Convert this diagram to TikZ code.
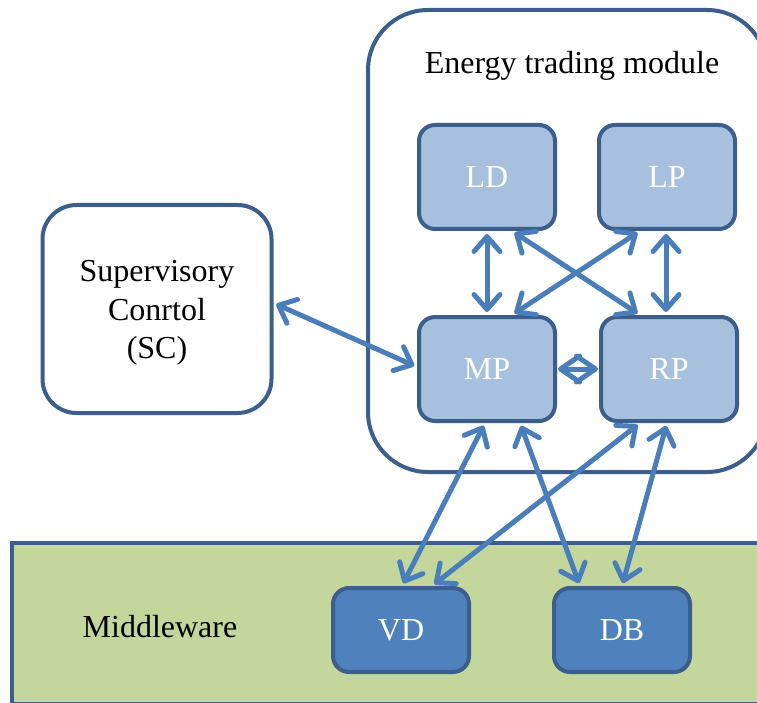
\documentclass[tikz,border=0pt]{standalone}
\usepackage{fontspec}
\setmainfont{Liberation Serif}
\usetikzlibrary{arrows.meta}
\definecolor{bord}{HTML}{3B5E8C}
\definecolor{arr}{HTML}{4A7EBB}
\definecolor{light}{HTML}{A7C0DE}
\definecolor{dark}{HTML}{4F81BD}
\definecolor{mw}{HTML}{C3D69B}
\tikzset{
  lbox/.style={draw=bord, line width=4pt, fill=light, rounded corners=16pt,
    minimum width=136pt, minimum height=104pt, text=white, font=\fontsize{32}{36}\selectfont, inner sep=0pt},
  dbox/.style={lbox, fill=dark, minimum height=84pt},
  barb/.tip={Straight Barb[length=15pt,width=26pt,line width=5pt,round]},
  dbarb/.tip={Straight Barb[length=19pt,width=26pt,line width=5pt,round]},
  conn/.style={draw=arr, line width=5pt, line cap=round, barb-barb,
    shorten <=3pt, shorten >=3pt},
  lbl/.style={font=\fontsize{32}{37}\selectfont, text=black, align=center, inner sep=0pt}
}
\begin{document}
\begin{tikzpicture}[x=1pt,y=-1pt]
\useasboundingbox (0,0) rectangle (757,703);
\clip (0,0) rectangle (757,703);
\fill[white] (0,0) rectangle (757,703);
% module
\draw[bord, line width=4pt, rounded corners=60pt] (368,10) rectangle (767,472);
\node[lbl] (title) at (572,66) {Energy trading module};
% middleware
\draw[bord, line width=4pt, fill=mw] (12,543) rectangle (790,704);
\node[lbl] (mwlabel) at (160,627) {Middleware};
% SC
\node[draw=bord, line width=4pt, rounded corners=34pt, minimum width=229pt, minimum height=208pt] (SC) at (157,309) {};
\node[lbl, font=\fontsize{32}{38.5}\selectfont] (SCtext) at (157,313) {Supervisory\\Conrtol\\(SC)};
% modules
\node[lbox] (LD) at (487,177) {LD};
\node[lbox] (LP) at (667,177) {LP};
\node[lbox] (MP) at (487,369) {MP};
\node[lbox] (RP) at (669,369) {RP};
\node[dbox] (VD) at (401,630) {VD};
\node[dbox] (DB) at (622,630) {DB};
% connectors
\draw[conn] (SC.east |- 0,303) -- (MP.west |- 0,367);
\draw[conn] (LD.south) -- (MP.north);
\draw[conn] ([xshift=-1pt]LP.south) -- ([xshift=-3pt]RP.north);
\draw[conn] ([xshift=25pt]LD.south) -- ([xshift=-29pt]RP.north);
\draw[conn] ([xshift=-27pt]LP.south) -- ([xshift=25pt]MP.north);
\draw[draw=arr, line width=5pt, dbarb-dbarb, shorten <=1pt, shorten >=1pt] (MP.east) -- (RP.west);
\draw[conn] ([xshift=-2pt]MP.south) -- ([xshift=1pt]VD.north);
\draw[conn] ([xshift=33pt]MP.south) -- ([xshift=-42pt]DB.north);
\draw[conn] ([xshift=-29pt]RP.south) -- ([xshift=31pt]VD.north);
\draw[conn] ([xshift=-2pt]RP.south) -- ([xshift=0pt]DB.north);
\end{tikzpicture}
\end{document}
